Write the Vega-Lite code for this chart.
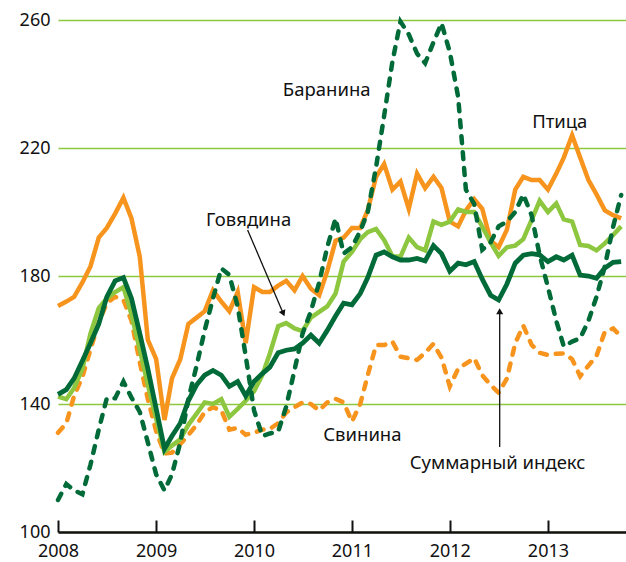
{
  "$schema": "https://vega.github.io/schema/vega-lite/v6.json",
  "width": 568,
  "height": 512,
  "autosize": {"type": "none"},
  "padding": {"left": 58, "top": 20, "right": 0, "bottom": 30},
  "background": "white",
  "config": {
    "view": {"stroke": null},
    "font": "Noto Sans",
    "axisY": {"domain": false, "ticks": false, "grid": true, "gridColor": "#8dc63f", "gridWidth": 1.5, "labelFontSize": 18, "labelColor": "#111", "labelPadding": 8, "labelFont": "Noto Sans"},
    "axisX": {"domain": true, "domainColor": "#111", "domainWidth": 2.5, "ticks": true, "tickColor": "#111", "tickWidth": 2, "tickSize": -12, "labelPadding": 22, "grid": false, "labelFontSize": 18, "labelColor": "#111", "labelFont": "Noto Sans", "labelFlush": false}
  },
  "datasets": {
    "series": [
      {"d": "2008-01-01", "Птица": 170.6, "Говядина": 142.3, "Суммарный": 143, "Свинина": 131, "Баранина": 110},
      {"d": "2008-02-01", "Птица": 172, "Говядина": 141.5, "Суммарный": 144.5, "Свинина": 134, "Баранина": 115},
      {"d": "2008-03-01", "Птица": 173.5, "Говядина": 145, "Суммарный": 148, "Свинина": 142.5, "Баранина": 113},
      {"d": "2008-04-01", "Птица": 178, "Говядина": 151, "Суммарный": 153.5, "Свинина": 148.5, "Баранина": 111.8},
      {"d": "2008-05-01", "Птица": 183, "Говядина": 162, "Суммарный": 159, "Свинина": 157, "Баранина": 121},
      {"d": "2008-06-01", "Птица": 192, "Говядина": 170, "Суммарный": 165, "Свинина": 165.5, "Баранина": 132},
      {"d": "2008-07-01", "Птица": 195, "Говядина": 173, "Суммарный": 173.5, "Свинина": 171.5, "Баранина": 141.8},
      {"d": "2008-08-01", "Птица": 199.5, "Говядина": 175, "Суммарный": 178.5, "Свинина": 173.5, "Баранина": 141.8},
      {"d": "2008-09-01", "Птица": 204.5, "Говядина": 176.5, "Суммарный": 179.5, "Свинина": 172.5, "Баранина": 147},
      {"d": "2008-10-01", "Птица": 198, "Говядина": 168, "Суммарный": 173, "Свинина": 166, "Баранина": 142},
      {"d": "2008-11-01", "Птица": 186, "Говядина": 157, "Суммарный": 162, "Свинина": 153, "Баранина": 137.5},
      {"d": "2008-12-01", "Птица": 160, "Говядина": 146, "Суммарный": 151, "Свинина": 141.5, "Баранина": 128},
      {"d": "2009-01-01", "Птица": 154, "Говядина": 135.5, "Суммарный": 138.5, "Свинина": 131.5, "Баранина": 118},
      {"d": "2009-02-01", "Птица": 135, "Говядина": 125, "Суммарный": 126, "Свинина": 124.5, "Баранина": 113},
      {"d": "2009-03-01", "Птица": 148, "Говядина": 127, "Суммарный": 130, "Свинина": 124.8, "Баранина": 118},
      {"d": "2009-04-01", "Птица": 154, "Говядина": 129, "Суммарный": 134, "Свинина": 127.5, "Баранина": 128},
      {"d": "2009-05-01", "Птица": 165, "Говядина": 133.5, "Суммарный": 141, "Свинина": 130.3, "Баранина": 141.5},
      {"d": "2009-06-01", "Птица": 167, "Говядина": 137, "Суммарный": 146, "Свинина": 133.5, "Баранина": 152},
      {"d": "2009-07-01", "Птица": 169, "Говядина": 140.5, "Суммарный": 149, "Свинина": 137.5, "Баранина": 163},
      {"d": "2009-08-01", "Птица": 175.5, "Говядина": 140, "Суммарный": 150.5, "Свинина": 139, "Баранина": 173},
      {"d": "2009-09-01", "Птица": 172, "Говядина": 141.5, "Суммарный": 149, "Свинина": 138, "Баранина": 182.4},
      {"d": "2009-10-01", "Птица": 169, "Говядина": 136, "Суммарный": 145.5, "Свинина": 132, "Баранина": 180.3},
      {"d": "2009-11-01", "Птица": 175, "Говядина": 138.5, "Суммарный": 147, "Свинина": 132.5, "Баранина": 170.5},
      {"d": "2009-12-01", "Птица": 159, "Говядина": 141, "Суммарный": 142.5, "Свинина": 130.4, "Баранина": 155},
      {"d": "2010-01-01", "Птица": 176.5, "Говядина": 144, "Суммарный": 147, "Свинина": 131, "Баранина": 138},
      {"d": "2010-02-01", "Птица": 175, "Говядина": 149, "Суммарный": 149.5, "Свинина": 132, "Баранина": 130},
      {"d": "2010-03-01", "Птица": 175, "Говядина": 155.8, "Суммарный": 151.5, "Свинина": 132.2, "Баранина": 130.8},
      {"d": "2010-04-01", "Птица": 177, "Говядина": 164.3, "Суммарный": 156, "Свинина": 134, "Баранина": 131.4},
      {"d": "2010-05-01", "Птица": 178.5, "Говядина": 165.3, "Суммарный": 156.8, "Свинина": 137.4, "Баранина": 139.2},
      {"d": "2010-06-01", "Птица": 175.5, "Говядина": 163.6, "Суммарный": 157.2, "Свинина": 139, "Баранина": 150.6},
      {"d": "2010-07-01", "Птица": 180, "Говядина": 162.8, "Суммарный": 159, "Свинина": 140.5, "Баранина": 162},
      {"d": "2010-08-01", "Птица": 176, "Говядина": 167, "Суммарный": 161.5, "Свинина": 140, "Баранина": 169},
      {"d": "2010-09-01", "Птица": 174, "Говядина": 168.8, "Суммарный": 159, "Свинина": 138, "Баранина": 178},
      {"d": "2010-10-01", "Птица": 181.5, "Говядина": 170.5, "Суммарный": 163, "Свинина": 140.5, "Баранина": 189},
      {"d": "2010-11-01", "Птица": 191, "Говядина": 174.5, "Суммарный": 167.5, "Свинина": 141.6, "Баранина": 198},
      {"d": "2010-12-01", "Птица": 192, "Говядина": 184.5, "Суммарный": 171.5, "Свинина": 140.5, "Баранина": 187},
      {"d": "2011-01-01", "Птица": 195, "Говядина": 187.5, "Суммарный": 171, "Свинина": 134.5, "Баранина": 189},
      {"d": "2011-02-01", "Птица": 195, "Говядина": 191.5, "Суммарный": 174.5, "Свинина": 140, "Баранина": 194},
      {"d": "2011-03-01", "Птица": 200.5, "Говядина": 193.7, "Суммарный": 179.5, "Свинина": 149, "Баранина": 200},
      {"d": "2011-04-01", "Птица": 211, "Говядина": 194.7, "Суммарный": 186.5, "Свинина": 158.4, "Баранина": 214},
      {"d": "2011-05-01", "Птица": 215, "Говядина": 191.25, "Суммарный": 187.5, "Свинина": 158.4, "Баранина": 230},
      {"d": "2011-06-01", "Птица": 207, "Говядина": 186.2, "Суммарный": 186, "Свинина": 159.5, "Баранина": 247},
      {"d": "2011-07-01", "Птица": 209.5, "Говядина": 186, "Суммарный": 185, "Свинина": 154.8, "Баранина": 259.5},
      {"d": "2011-08-01", "Птица": 201, "Говядина": 192, "Суммарный": 185, "Свинина": 154.3, "Баранина": 255.5},
      {"d": "2011-09-01", "Птица": 212, "Говядина": 189, "Суммарный": 185.5, "Свинина": 153.8, "Баранина": 249.5},
      {"d": "2011-10-01", "Птица": 207.5, "Говядина": 188, "Суммарный": 184.7, "Свинина": 156, "Баранина": 246.5},
      {"d": "2011-11-01", "Птица": 211, "Говядина": 197, "Суммарный": 189.5, "Свинина": 158.8, "Баранина": 253},
      {"d": "2011-12-01", "Птица": 207.5, "Говядина": 196, "Суммарный": 187, "Свинина": 154.5, "Баранина": 259},
      {"d": "2012-01-01", "Птица": 197, "Говядина": 197, "Суммарный": 181.5, "Свинина": 145.5, "Баранина": 250},
      {"d": "2012-02-01", "Птица": 195.5, "Говядина": 200.8, "Суммарный": 184, "Свинина": 151, "Баранина": 236},
      {"d": "2012-03-01", "Птица": 200.5, "Говядина": 200, "Суммарный": 183.5, "Свинина": 152.6, "Баранина": 207},
      {"d": "2012-04-01", "Птица": 204, "Говядина": 200, "Суммарный": 184.5, "Свинина": 154.3, "Баранина": 202.5},
      {"d": "2012-05-01", "Птица": 201, "Говядина": 195.4, "Суммарный": 179, "Свинина": 149, "Баранина": 188.2},
      {"d": "2012-06-01", "Птица": 191, "Говядина": 190.5, "Суммарный": 174, "Свинина": 146, "Баранина": 190.5},
      {"d": "2012-07-01", "Птица": 189, "Говядина": 186.3, "Суммарный": 172.5, "Свинина": 143.5, "Баранина": 195.5},
      {"d": "2012-08-01", "Птица": 194.5, "Говядина": 189, "Суммарный": 177.5, "Свинина": 148, "Баранина": 197},
      {"d": "2012-09-01", "Птица": 207, "Говядина": 189.5, "Суммарный": 184, "Свинина": 159, "Баранина": 200},
      {"d": "2012-10-01", "Птица": 211, "Говядина": 191.5, "Суммарный": 186.5, "Свинина": 164.5, "Баранина": 205.5},
      {"d": "2012-11-01", "Птица": 210, "Говядина": 197.5, "Суммарный": 187, "Свинина": 158.5, "Баранина": 199},
      {"d": "2012-12-01", "Птица": 210, "Говядина": 203.5, "Суммарный": 186.6, "Свинина": 156, "Баранина": 186.5},
      {"d": "2013-01-01", "Птица": 207, "Говядина": 200, "Суммарный": 184.5, "Свинина": 155.3, "Баранина": 176.5},
      {"d": "2013-02-01", "Птица": 212, "Говядина": 202.7, "Суммарный": 186, "Свинина": 155.7, "Баранина": 166},
      {"d": "2013-03-01", "Птица": 217, "Говядина": 197.7, "Суммарный": 185, "Свинина": 155.8, "Баранина": 158},
      {"d": "2013-04-01", "Птица": 224, "Говядина": 197, "Суммарный": 186.5, "Свинина": 154, "Баранина": 159.5},
      {"d": "2013-05-01", "Птица": 217, "Говядина": 189.7, "Суммарный": 180.3, "Свинина": 148.7, "Баранина": 160.5},
      {"d": "2013-06-01", "Птица": 210, "Говядина": 189.4, "Суммарный": 180, "Свинина": 152, "Баранина": 166},
      {"d": "2013-07-01", "Птица": 205.5, "Говядина": 188, "Суммарный": 179.3, "Свинина": 155, "Баранина": 173.5},
      {"d": "2013-08-01", "Птица": 200.5, "Говядина": 190.2, "Суммарный": 182.5, "Свинина": 162.6, "Баранина": 183},
      {"d": "2013-09-01", "Птица": 199, "Говядина": 192.8, "Суммарный": 184.3, "Свинина": 163.6, "Баранина": 195.4},
      {"d": "2013-10-01", "Птица": 198, "Говядина": 195.5, "Суммарный": 184.5, "Свинина": 161, "Баранина": 205.3}
    ],
    "labels": [
      {"label": "Баранина", "d": "2010-09-29", "v": 238.1},
      {"label": "Птица", "d": "2013-02-14", "v": 228.2},
      {"label": "Говядина", "d": "2009-12-12", "v": 197.5},
      {"label": "Свинина", "d": "2011-02-09", "v": 130.3},
      {"label": "Суммарный индекс", "d": "2012-06-27", "v": 121.7}
    ],
    "arrows": [
      {"d": "2009-12-08", "v": 194.4, "d2": "2010-04-20", "v2": 168.3},
      {"d": "2012-07-05", "v": 126.6, "d2": "2012-07-05", "v2": 169}
    ]
  },
  "encoding": {
    "x": {
      "field": "d", "type": "temporal", "title": null,
      "scale": {"type": "utc", "domain": [{"year": 2008, "month": 1, "date": 1, "utc": true}, {"year": 2013, "month": 10, "date": 19, "utc": true}]},
      "axis": {"format": "%Y", "formatType": "utc", "tickCount": {"interval": "year", "step": 1}}
    }
  },
  "layer": [
    {"data": {"name": "series"}, "mark": {"type": "line", "color": "#f7941d", "strokeWidth": 4.5, "strokeDash": [7, 9], "strokeCap": "round"},
     "encoding": {"y": {"field": "Свинина", "type": "quantitative", "title": null, "scale": {"domain": [100, 260], "nice": false, "zero": false}, "axis": {"values": [100, 140, 180, 220, 260]}}}},
    {"data": {"name": "series"}, "mark": {"type": "line", "color": "#f7941d", "strokeWidth": 4.5},
     "encoding": {"y": {"field": "Птица", "type": "quantitative", "title": null}}},
    {"data": {"name": "series"}, "mark": {"type": "line", "color": "#8dc63f", "strokeWidth": 4.5},
     "encoding": {"y": {"field": "Говядина", "type": "quantitative", "title": null}}},
    {"data": {"name": "series"}, "mark": {"type": "line", "color": "#006b38", "strokeWidth": 4.5, "strokeDash": [7, 9], "strokeCap": "round"},
     "encoding": {"y": {"field": "Баранина", "type": "quantitative", "title": null}}},
    {"data": {"name": "series"}, "mark": {"type": "line", "color": "#006b38", "strokeWidth": 4.8},
     "encoding": {"y": {"field": "Суммарный", "type": "quantitative", "title": null}}},
    {"data": {"name": "arrows"}, "mark": {"type": "rule", "color": "#111", "strokeWidth": 1.3},
     "encoding": {"x2": {"field": "d2"}, "y": {"field": "v", "type": "quantitative", "title": null}, "y2": {"field": "v2"}}},
    {"data": {"values": [{"d": "2010-04-20", "v": 168.3}]}, "mark": {"type": "point", "shape": "triangle-up", "filled": true, "color": "#111", "opacity": 1, "size": 50, "angle": 157},
     "encoding": {"y": {"field": "v", "type": "quantitative", "title": null}}},
    {"data": {"values": [{"d": "2012-07-05", "v": 169}]}, "mark": {"type": "point", "shape": "triangle-up", "filled": true, "color": "#111", "opacity": 1, "size": 50},
     "encoding": {"y": {"field": "v", "type": "quantitative", "title": null}}},
    {"data": {"name": "labels"}, "mark": {"type": "text", "fontSize": 18.5, "color": "#111", "align": "center", "baseline": "middle", "font": "Noto Sans"},
     "encoding": {"y": {"field": "v", "type": "quantitative", "title": null}, "text": {"field": "label"}}}
  ]
}
